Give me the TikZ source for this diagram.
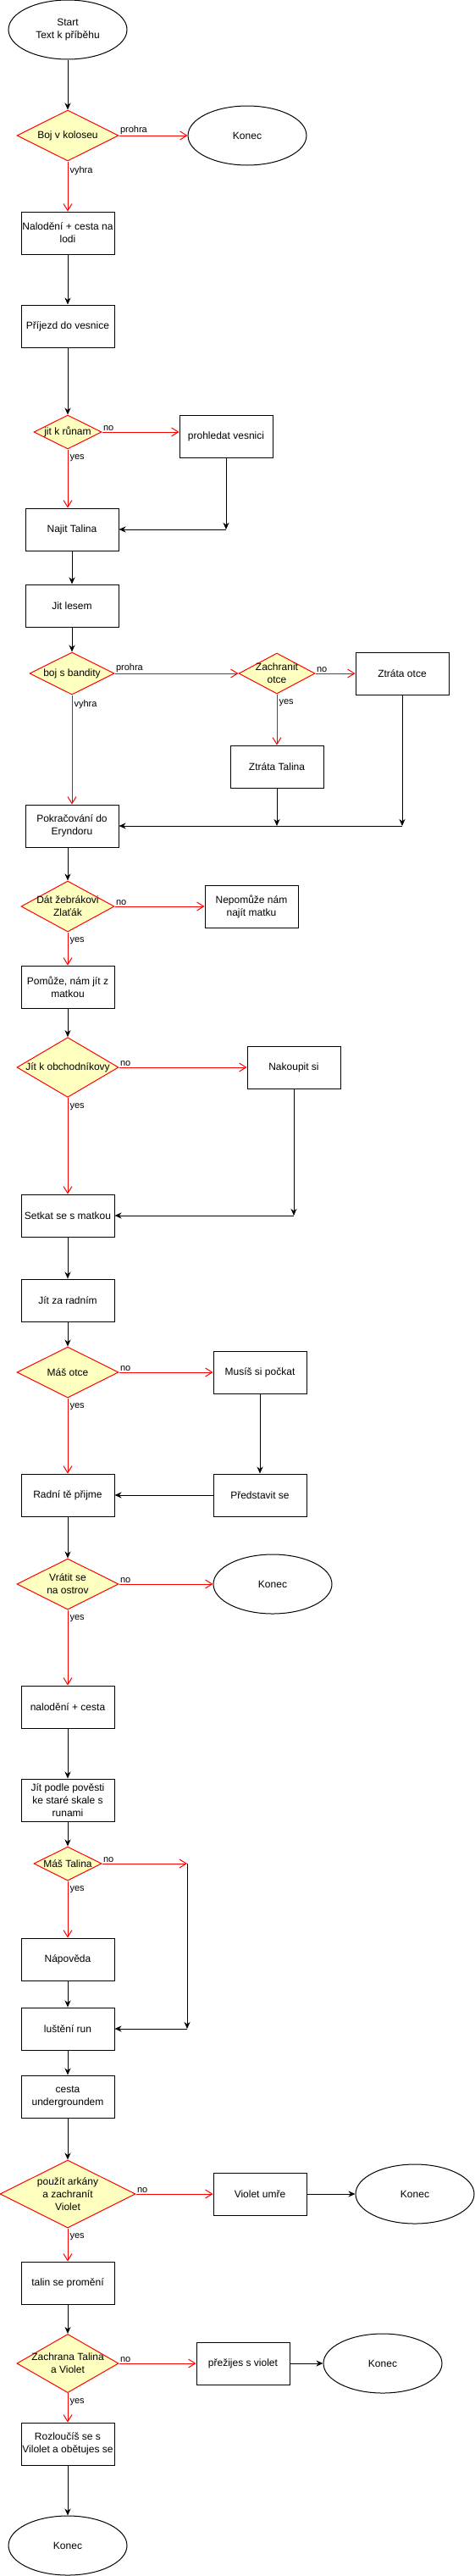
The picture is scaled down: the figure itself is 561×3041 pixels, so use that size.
\documentclass[tikz,border=0pt]{standalone}
\usepackage{fontspec}
\setmainfont{Liberation Sans}
\usetikzlibrary{shapes.geometric,arrows.meta}
\definecolor{decfill}{HTML}{FFFFC0}

\begin{document}
\begin{tikzpicture}[x=1pt,y=-1pt,line width=1pt,
  every node/.style={font=\fontsize{12}{15}\selectfont,align=center},
  stepbox/.style={rectangle,draw,minimum width=110pt,minimum height=50pt,inner sep=1pt},
  endpoint/.style={ellipse,draw,minimum width=140pt,minimum height=70pt},
  dec/.style 2 args={diamond,draw=red,fill=decfill,minimum width=#1,minimum height=#2,inner sep=-10pt},
  flow/.style={-{Stealth[length=8pt,width=7pt,inset=2.5pt]}},
  choice/.style={draw=red,-{Straight Barb[length=8pt,width=10pt]}},
  lab/.style={font=\fontsize{11}{13}\selectfont,inner sep=1pt},
  hlab/.style={lab,pos=0,anchor=south west},
  vlab/.style={lab,pos=0,anchor=north west,xshift=1pt,yshift=-5pt}]
\useasboundingbox (0,0) rectangle (561,3041);

\node[endpoint] (start) at (80,35) {Start\\Text k příběhu};
\node[dec={120pt}{60pt}] (koloseum) at (80,160) {Boj v koloseu};
\node[endpoint] (konecA) at (292,160) {Konec};
\node[stepbox] (nalodeni) at (80,275) {Nalodění + cesta na\\lodi};
\node[stepbox] (prijezd) at (80,385) {Příjezd do vesnice};
\node[dec={80pt}{40pt}] (runy) at (80,510) {jit k růnam};
\node[stepbox] (prohledat) at (267,515) {prohledat vesnici};
\node[stepbox] (najit) at (85,625) {Najit Talina};
\node[stepbox] (les) at (85,715) {Jit lesem};
\node[dec={100pt}{50pt}] (bandite) at (85,795) {boj s bandity};
\node[dec={90pt}{48pt}] (otec) at (327,795) {Zachranit\\otce};
\node[stepbox] (ztrotec) at (475,795) {Ztráta otce};
\node[stepbox] (ztrtalin) at (327,905) {Ztráta Talina};
\node[stepbox] (eryndor) at (85,975) {Pokračování do\\Eryndoru};
\node[dec={110pt}{60pt}] (zebrak) at (80,1070) {Dát žebrákovi\\Zlaťák};
\node[stepbox] (nepomuze) at (297,1070) {Nepomůže nám\\najít matku};
\node[stepbox] (pomuze) at (80,1165) {Pomůže, nám jít z\\matkou};
\node[dec={120pt}{60pt}] (obchodnik) at (80,1260) {Jít k obchodníkovy};
\node[stepbox] (nakoupit) at (347,1260) {Nakoupit si};
\node[stepbox] (matka) at (80,1435) {Setkat se s matkou};
\node[stepbox] (zaradnim) at (80,1535) {Jít za radním};
\node[dec={120pt}{60pt}] (otce) at (80,1620) {Máš otce};
\node[stepbox] (pockat) at (307,1620) {Musíš si počkat};
\node[stepbox] (predstavit) at (307,1765) {Představit se};
\node[stepbox] (prijme) at (80,1765) {Radní tě přijme};
\node[dec={120pt}{60pt}] (ostrov) at (80,1870) {Vrátit se\\na ostrov};
\node[endpoint] (konecB) at (322,1870) {Konec};
\node[stepbox] (cesta) at (80,2015) {nalodění + cesta};
\node[stepbox] (povest) at (80,2125) {Jít podle pověsti\\ke staré skale s\\runami};
\node[dec={80pt}{40pt}] (talina) at (80,2200) {Máš Talina};
\node[stepbox] (napoveda) at (80,2313) {Nápověda};
\node[stepbox] (lusteni) at (80,2395) {luštění run};
\node[stepbox] (underground) at (80,2475) {cesta\\undergroundem};
\node[dec={160pt}{80pt}] (arkany) at (80,2590) {použít arkány\\a zachranít\\Violet};
\node[stepbox] (umre) at (307,2590) {Violet umře};
\node[endpoint] (konecC) at (490,2590) {Konec};
\node[stepbox] (promeni) at (80,2695) {talin se promění};
\node[dec={120pt}{60pt}] (zachrana) at (80,2790) {Zachrana Talina\\a Violet};
\node[stepbox] (prezijes) at (287,2790) {přežijes s violet};
\node[endpoint] (konecD) at (452,2790) {Konec};
\node[stepbox] (rozlouceni) at (80,2885) {Rozloučíš se s\\Vilolet a obětujes se};
\node[endpoint] (konecE) at (80,3005) {Konec};

% join points
\coordinate (jp) at (267,625);
\coordinate (jt) at (327,975);
\coordinate (jo) at (475,975);
\coordinate (jn) at (347,1435);
\coordinate (jm) at (221,2200);
\coordinate (jl) at (221,2395);

\draw[flow] (start) -- (koloseum);
\draw[choice] (koloseum) -- node[hlab]{prohra} (konecA);
\draw[choice] (koloseum) -- node[vlab]{vyhra} (nalodeni);
\draw[flow] (nalodeni) -- (prijezd);
\draw[flow] (prijezd) -- (runy);
\draw[choice] (runy) -- node[hlab]{no} (runy -| prohledat.west);
\draw[choice] (runy) -- node[vlab]{yes} (runy |- najit.north);
\draw[flow] (prohledat) -- (jp);
\draw[flow] (jp) -- (najit);
\draw[flow] (najit) -- (les);
\draw[flow] (les) -- (bandite);
\draw[choice] (bandite) -- node[hlab]{prohra} (otec);
\draw[choice] (bandite) -- node[vlab]{vyhra} (eryndor);
\draw[choice] (otec) -- node[hlab]{no} (ztrotec);
\draw[choice] (otec) -- node[vlab]{yes} (ztrtalin);
\draw[flow] (ztrtalin) -- (jt);
\draw[flow] (ztrotec) -- (jo);
\draw[flow] (jo) -- (eryndor);
\draw[flow] (eryndor.south -| zebrak) -- (zebrak);
\draw[choice] (zebrak) -- node[hlab]{no} (nepomuze);
\draw[choice] (zebrak) -- node[vlab]{yes} (pomuze);
\draw[flow] (pomuze) -- (obchodnik);
\draw[choice] (obchodnik) -- node[hlab]{no} (nakoupit);
\draw[choice] (obchodnik) -- node[vlab]{yes} (matka);
\draw[flow] (nakoupit) -- (jn);
\draw[flow] (jn) -- (matka);
\draw[flow] (matka) -- (zaradnim);
\draw[flow] (zaradnim) -- (otce);
\draw[choice] (otce) -- node[hlab]{no} (pockat);
\draw[choice] (otce) -- node[vlab]{yes} (prijme);
\draw[flow] (pockat) -- (predstavit);
\draw[flow] (predstavit) -- (prijme);
\draw[flow] (prijme) -- (ostrov);
\draw[choice] (ostrov) -- node[hlab]{no} (konecB);
\draw[choice] (ostrov) -- node[vlab]{yes} (cesta);
\draw[flow] (cesta) -- (povest);
\draw[flow] (povest) -- (talina);
\draw[choice] (talina) -- node[hlab]{no} (jm);
\draw[flow] (jm) -- (jl);
\draw[flow] (jl) -- (lusteni);
\draw[choice] (talina) -- node[vlab]{yes} (napoveda);
\draw[flow] (napoveda) -- (lusteni);
\draw[flow] (lusteni) -- (underground);
\draw[flow] (underground) -- (arkany);
\draw[choice] (arkany) -- node[hlab]{no} (umre);
\draw[choice] (arkany) -- node[vlab]{yes} (promeni);
\draw[flow] (umre) -- (konecC);
\draw[flow] (promeni) -- (zachrana);
\draw[choice] (zachrana) -- node[hlab]{no} (prezijes);
\draw[choice] (zachrana) -- node[vlab]{yes} (rozlouceni);
\draw[flow] (prezijes) -- (konecD);
\draw[flow] (rozlouceni) -- (konecE);
\end{tikzpicture}
\end{document}
